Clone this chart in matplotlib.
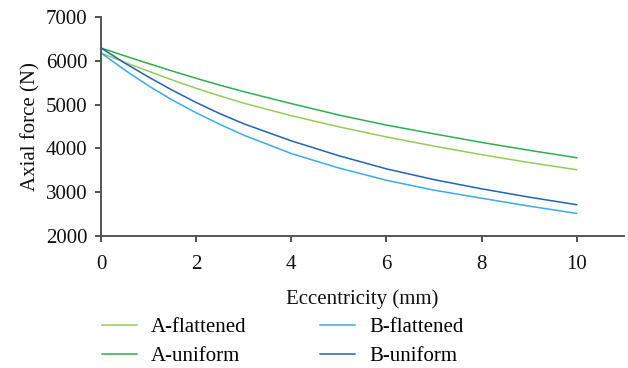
import matplotlib
matplotlib.use("Agg")
import matplotlib.pyplot as plt

ecc = [0, 0.5, 1, 1.5, 2, 2.5, 3, 4, 5, 6, 7, 8, 9, 10]
a_flattened = [6176, 5962, 5760, 5558, 5370, 5195, 5030, 4745, 4490, 4260, 4050, 3855, 3675, 3511]
a_uniform = [6290, 6110, 5935, 5763, 5598, 5441, 5293, 5020, 4760, 4530, 4330, 4135, 3955, 3785]
b_flattened = [6176, 5785, 5425, 5100, 4810, 4545, 4300, 3880, 3550, 3270, 3045, 2860, 2680, 2513]
b_uniform = [6290, 5945, 5625, 5325, 5045, 4790, 4560, 4170, 3830, 3530, 3285, 3075, 2885, 2712]

xticks = [0, 2, 4, 6, 8, 10]
yticks = [2000, 3000, 4000, 5000, 6000, 7000]

plt.rcParams['font.family'] = ['Liberation Serif', 'DejaVu Serif']

fig = plt.figure(figsize=(6.28, 3.68), dpi=100)
ax = fig.add_axes([0.161, 0.359, 0.833, 0.595])

ax.plot(ecc, a_flattened, color='#94CB5A', lw=1.1, label='A-flattened')
ax.plot(ecc, a_uniform, color='#2EAE4E', lw=1.1, label='A-uniform')
ax.plot(ecc, b_flattened, color='#38ACE3', lw=1.1, label='B-flattened')
ax.plot(ecc, b_uniform, color='#2364B0', lw=1.1, label='B-uniform')

ax.set_xlim(0, 11)
ax.set_ylim(2000, 7000)
ax.set_xticks(xticks)
ax.set_yticks(yticks)
for s in ['top', 'right']:
    ax.spines[s].set_visible(False)
for s in ['left', 'bottom']:
    ax.spines[s].set_color('#555555')
    ax.spines[s].set_linewidth(1.4)
ax.tick_params(direction='out', length=4, width=1.2, color='#333333',
               labelsize=15, labelcolor='#111111')
ax.tick_params(axis='x', pad=10)
ax.tick_params(axis='y', pad=6)
ax.set_xlabel('Eccentricity (mm)', fontsize=15, color='#111111', labelpad=11)
ax.set_ylabel('Axial force (N)', fontsize=15, color='#111111', labelpad=4)

handles, labels = ax.get_legend_handles_labels()
fig.legend(handles, labels,
           ncol=2, loc='upper left', bbox_to_anchor=(0.149, 0.16),
           frameon=False, fontsize=15, handlelength=1.7, handletextpad=0.67,
           columnspacing=3.5, labelspacing=0.45, borderaxespad=0)

fig.savefig('out.png', dpi=100)
